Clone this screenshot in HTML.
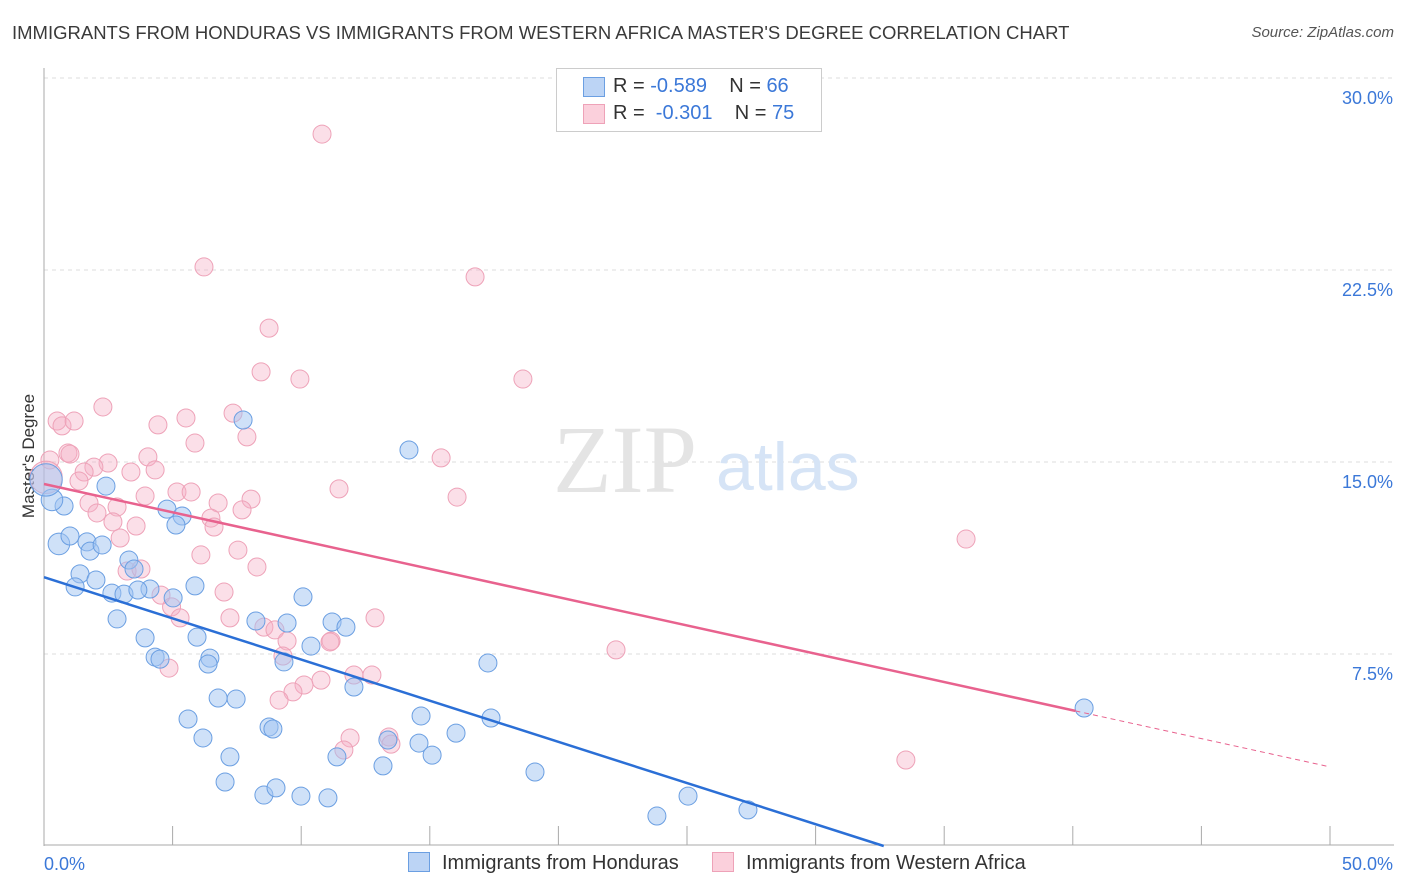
<!DOCTYPE html>
<html><head><meta charset="utf-8"><style>
body{margin:0;background:#fff;font-family:"Liberation Sans",sans-serif;}
#wrap{position:relative;width:1406px;height:892px;overflow:hidden;}
.t{position:absolute;white-space:nowrap;}
</style></head><body>
<div id="wrap">
<div class="t" style="left:12px;top:22px;font-size:18.5px;color:#3a3a3a;">IMMIGRANTS FROM HONDURAS VS IMMIGRANTS FROM WESTERN AFRICA MASTER'S DEGREE CORRELATION CHART</div>
<div class="t" style="right:12px;top:24px;font-size:15px;color:#555;font-style:italic;">Source: ZipAtlas.com</div>
<svg id="plot" width="1406" height="892" style="position:absolute;left:0;top:0"></svg>
</div>
<script>
const blueX=[0.78,0.58,1.01,1.67,1.79,2.26,1.40,2.02,1.21,2.41,3.30,3.50,2.64,3.11,4.12,3.65,2.84,3.93,4.32,4.51,4.78,5.37,5.13,5.87,5.02,5.95,6.45,6.38,6.77,7.47,5.60,6.18,7.23,7.04,8.55,9.02,8.75,8.90,7.74,10.07,8.24,9.45,11.20,11.74,10.38,9.33,12.05,14.19,14.66,13.37,14.58,15.09,11.39,13.18,9.99,11.04,16.02,17.38,17.26,19.09,23.83,25.04,27.37,40.44,0.31,0.08];
const blueY=[13.28,11.80,12.11,11.88,11.52,11.76,10.63,10.39,10.12,14.06,11.17,10.82,9.88,9.84,10.04,10.00,8.87,8.13,7.38,7.30,13.16,12.89,12.54,10.16,9.69,8.16,7.34,7.11,5.78,5.74,4.96,4.22,3.48,2.50,1.99,2.27,4.65,4.57,16.64,9.73,8.79,8.71,8.75,8.55,7.81,7.19,6.21,15.47,5.08,4.14,4.02,3.55,3.48,3.13,1.95,1.88,4.41,5.00,7.15,2.89,1.17,1.95,1.41,5.39,13.52,14.3];
const blueW=[1,1.2,1,1,1,1,1,1,1,1,1,1,1,1,1,1,1,1,1,1,1,1,1,1,1,1,1,1,1,1,1,1,1,1,1,1,1,1,1,1,1,1,1,1,1,1,1,1,1,1,1,1,1,1,1,1,1,1,1,1,1,1,1,1,1.2,1.8];
const pinkX=[10.81,6.22,16.76,8.75,8.44,9.95,18.62,0.51,0.70,1.17,2.29,4.43,5.52,7.35,7.89,5.87,0.93,1.01,0.23,4.04,2.49,1.94,1.56,3.38,4.32,1.36,15.44,11.47,16.06,5.17,5.72,3.93,1.75,2.84,2.06,6.77,8.05,7.70,6.49,6.61,2.68,3.58,2.96,7.54,6.10,8.28,3.23,3.77,35.85,4.55,4.96,5.29,7.00,7.23,8.55,8.98,9.45,11.16,11.12,12.87,22.24,9.29,4.86,10.77,10.11,9.68,9.14,12.05,12.75,11.90,11.66,13.41,13.49,33.51,0.08];
const pinkY=[27.81,22.62,22.23,20.23,18.52,18.24,18.24,16.60,16.41,16.60,17.15,16.45,16.72,16.91,15.98,15.74,15.35,15.31,15.08,15.20,14.96,14.80,14.61,14.61,14.69,14.26,15.16,13.95,13.63,13.83,13.83,13.67,13.40,13.24,13.01,13.40,13.55,13.13,12.81,12.46,12.66,12.50,12.03,11.56,11.37,10.90,10.74,10.82,11.99,9.80,9.34,8.91,9.92,8.91,8.55,8.44,8.01,8.01,7.97,8.91,7.66,7.42,6.95,6.48,6.29,6.02,5.70,6.68,6.68,4.22,3.75,4.26,3.98,3.36,14.4];
const yTicks=[7.5,15.0,22.5,30.0];
const xTickLabels=["0.0%","50.0%"];
const blueTrend=[10.5,-0.3216];
const pinkTrend=[14.14,-0.221];
const NS="http://www.w3.org/2000/svg";
const svg=document.getElementById('plot');
const X0=44,X1=1330,YB=846;
const sx=v=>X0+v*(X1-X0)/50;
const sy=v=>YB-v*25.6;
function mk(tag,attrs,parent){const e=document.createElementNS(NS,tag);for(const k in attrs)e.setAttribute(k,attrs[k]);(parent||svg).appendChild(e);return e;}
yTicks.forEach(t=>{
 const g=mk('line',{x1:X0,x2:1394,y1:sy(t),y2:sy(t),stroke:'#ddd','stroke-dasharray':'4,4'});
 
 
 const l=mk('text',{x:1393,y:sy(t)+26,'text-anchor':'end','font-size':18,fill:'#3b78d8','font-family':'Liberation Sans'});
 l.textContent=t.toFixed(1)+'%';
 
 
});
mk('line',{x1:X0,x2:X0,y1:68,y2:846,stroke:'#aaa'});
mk('line',{x1:X0,x2:1394,y1:845,y2:845,stroke:'#aaa'});
for(let i=1;i<=10;i++){const tk=mk('line',{x1:sx(i*5),x2:sx(i*5),y1:826,y2:845,stroke:'#aaa'});
 
 }
const xl0=mk('text',{x:44,y:870,'font-size':18,fill:'#3b78d8','font-family':'Liberation Sans'});xl0.textContent=xTickLabels[0];


const xl1=mk('text',{x:1393,y:870,'text-anchor':'end','font-size':18,fill:'#3b78d8','font-family':'Liberation Sans'});xl1.textContent=xTickLabels[1];


const yt=mk('text',{x:34,y:456,transform:'rotate(-90 34 456)','text-anchor':'middle','font-size':17,fill:'#333','font-family':'Liberation Sans'});yt.textContent="Master's Degree";


const w1=mk('text',{x:553,y:492,'font-size':96,fill:'#e4e4e4','font-family':'Liberation Serif'});w1.textContent='ZIP';


const w2=mk('text',{x:716,y:490,'font-size':68,fill:'#d6e4f6','font-family':'Liberation Sans'});w2.textContent='atlas';


function pts(xs,ys,ws,fill,stroke,name){xs.forEach((x,i)=>{const c=mk('circle',{cx:sx(x),cy:sy(ys[i]),r:9*(ws?ws[i]:1),fill:fill,stroke:stroke,'stroke-width':1});
 
 });}
pts(pinkX,pinkY,pinkX.map((_,i)=>i==pinkX.length-1?1.8:1),'rgba(246,176,198,0.4)','#eea2b8','pink-point');
pts(blueX,blueY,blueW,'rgba(160,196,242,0.5)','#6b9fe2','blue-point');
const bEnd=-blueTrend[0]/blueTrend[1];
const bl=mk('line',{x1:sx(0),y1:sy(blueTrend[0]),x2:sx(bEnd),y2:sy(0),stroke:'#2b6fd6','stroke-width':2.5});


const pl=mk('line',{x1:sx(0),y1:sy(pinkTrend[0]),x2:sx(40.1),y2:sy(pinkTrend[0]+pinkTrend[1]*40.1),stroke:'#e8628e','stroke-width':2.5});


const pd=mk('line',{x1:sx(40.1),y1:sy(pinkTrend[0]+pinkTrend[1]*40.1),x2:sx(50),y2:sy(pinkTrend[0]+pinkTrend[1]*50),stroke:'#e8628e','stroke-width':1,'stroke-dasharray':'5,4'});


</script>
<div class="t" style="left:556px;top:68px;width:264px;height:62px;border:1px solid #ccc;background:#fff;font-size:20px;color:#333;">
 <div style="position:absolute;left:26px;top:8px;width:20px;height:18px;background:#bcd4f5;border:1px solid #6b9fe2;"></div>
 <div class="t" style="left:56px;top:6px;">R = <span style="color:#3b78d8">-0.589</span>&nbsp;&nbsp;&nbsp; N = <span style="color:#3b78d8">66</span></div>
 <div style="position:absolute;left:26px;top:35px;width:20px;height:18px;background:#fbd0dc;border:1px solid #eea2b8;"></div>
 <div class="t" style="left:56px;top:33px;">R = &nbsp;<span style="color:#3b78d8">-0.301</span>&nbsp;&nbsp;&nbsp; N = <span style="color:#3b78d8">75</span></div>
</div>
<div class="t" style="left:408px;top:852px;font-size:20px;color:#333;"><span style="display:inline-block;width:20px;height:18px;background:#bcd4f5;border:1px solid #6b9fe2;vertical-align:-3px;margin-right:12px"></span>Immigrants from Honduras</div>
<div class="t" style="left:712px;top:852px;font-size:20px;color:#333;"><span style="display:inline-block;width:20px;height:18px;background:#fbd0dc;border:1px solid #eea2b8;vertical-align:-3px;margin-right:12px"></span>Immigrants from Western Africa</div>
</body></html>
